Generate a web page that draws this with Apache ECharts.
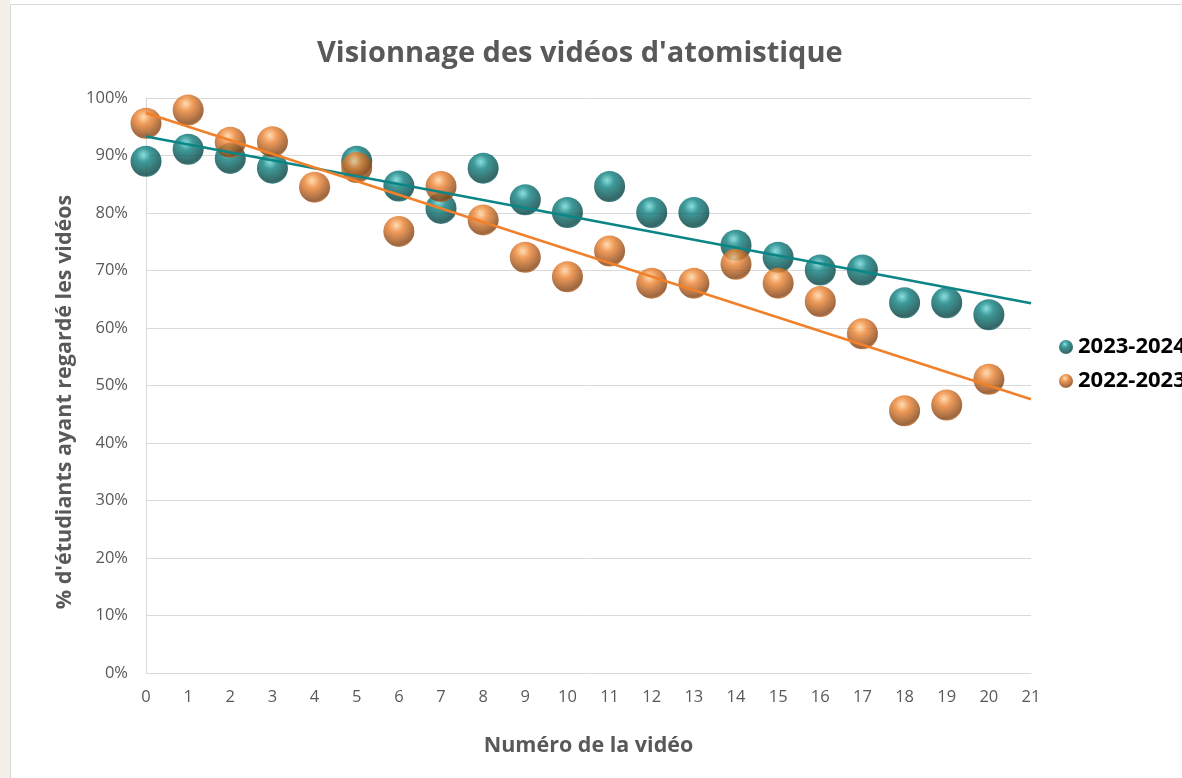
<!DOCTYPE html>
<html>
<head>
<meta charset="utf-8">
<script src="https://cdn.jsdelivr.net/npm/echarts@6/dist/echarts.min.js"></script>
<style>
html,body{margin:0;padding:0;background:#fff;}
#c{width:1182px;height:778px;}
</style>
</head>
<body>
<div id="c"></div>
<script>
// ---- data ----
const title = "Visionnage des vidéos d'atomistique";
const xName = "Numéro de la vidéo";
const yName = "% d'étudiants ayant regardé les vidéos";
const seriesNames = ["2023-2024", "2022-2023"];
const videos2324 = [0, 1, 2, 3, 5, 6, 7, 8, 9, 10, 11, 12, 13, 14, 15, 16, 17, 18, 19, 20];
const values2324 = [0.890, 0.911, 0.895, 0.878, 0.890, 0.847, 0.808, 0.878, 0.823, 0.801, 0.846, 0.801, 0.801, 0.744, 0.723, 0.701, 0.701, 0.644, 0.644, 0.623];
const videos2223 = [0, 1, 2, 3, 4, 5, 6, 7, 8, 9, 10, 11, 12, 13, 14, 15, 16, 17, 18, 19, 20];
const values2223 = [0.956, 0.979, 0.923, 0.924, 0.845, 0.879, 0.768, 0.846, 0.788, 0.723, 0.689, 0.734, 0.678, 0.678, 0.711, 0.678, 0.646, 0.590, 0.456, 0.466, 0.511];
// trend lines (endpoints)
const trendX = [0, 21];
const trend2324 = [0.933, 0.643];
const trend2223 = [0.974, 0.476];

const xMin = 0, xMax = 21, xStep = 1;
const yMin = 0, yMax = 1, yStep = 0.1;

function sphere(light, mid, dark) {
  return {
    type: 'radial', x: 0.42, y: 0.3, r: 0.78,
    colorStops: [
      {offset: 0, color: light},
      {offset: 0.3, color: mid},
      {offset: 0.82, color: dark},
      {offset: 1, color: mid}
    ]
  };
}
const tealSphere = sphere('#6fd6d6', '#0d8080', '#044040');
const orangeSphere = sphere('#ffd4a0', '#ec8230', '#834010');

const chart = echarts.init(document.getElementById('c'), null, {renderer: 'canvas'});
const font = '"Open Sans", "Liberation Sans", sans-serif';

chart.setOption({
  backgroundColor: '#fff',
  animation: false,
  title: {
    text: title, left: 312, top: 34,
    textStyle: {fontFamily: font, fontSize: 29, fontWeight: 'bold', color: '#595959'}
  },
  graphic: [
    {type: 'rect', left: 0, top: 0, shape: {width: 10, height: 778}, style: {fill: '#f3f0ea'}, z: -1},
    {type: 'polyline', shape: {points: [[10.5, 778], [10.5, 4.5], [1182, 4.5]]}, style: {stroke: '#d9d9d9', lineWidth: 1, fill: null}},
    {type: 'text', x: 65, y: 402, rotation: Math.PI / 2,
     style: {text: yName, fontFamily: font, fontSize: 21.5, fontWeight: 'bold', fill: '#595959', align: 'center', verticalAlign: 'middle'}}
  ],
  legend: {
    orient: 'vertical', left: 1054, top: 331, itemWidth: 14, itemHeight: 14, itemGap: 12,
    icon: 'circle',
    data: seriesNames,
    textStyle: {fontFamily: font, fontSize: 22, fontWeight: 'bold', color: '#000'}
  },
  grid: {left: 146, right: 151, top: 98, bottom: 105, containLabel: false},
  xAxis: {
    type: 'value', min: xMin, max: xMax, interval: xStep,
    name: xName, nameLocation: 'middle', nameGap: 62,
    nameTextStyle: {fontFamily: font, fontSize: 21.5, fontWeight: 'bold', color: '#595959'},
    axisLine: {show: true, lineStyle: {color: '#d9d9d9', width: 1}},
    axisTick: {show: false},
    splitLine: {show: false},
    axisLabel: {fontFamily: font, fontSize: 16.5, color: '#595959', margin: 16}
  },
  yAxis: {
    type: 'value', min: yMin, max: yMax, interval: yStep,
    axisLine: {show: true, lineStyle: {color: '#d9d9d9', width: 1}},
    axisTick: {show: false},
    splitLine: {show: true, lineStyle: {color: '#d9d9d9', width: 1}},
    axisLabel: {fontFamily: font, fontSize: 16.5, color: '#595959', margin: 18,
      formatter: v => Math.round(v * 100) + '%'}
  },
  series: [
    {name: seriesNames[0], type: 'scatter', symbolSize: 31, z: 2,
     itemStyle: {color: tealSphere},
     data: videos2324.map((x, i) => [x, values2324[i]])},
    {name: seriesNames[1], type: 'scatter', symbolSize: 31, z: 3,
     itemStyle: {color: orangeSphere},
     data: videos2223.map((x, i) => [x, values2223[i]])},
    {name: 'trend1', type: 'line', showSymbol: false, z: 4, silent: true,
     lineStyle: {color: '#0b8585', width: 2.5},
     data: trendX.map((x, i) => [x, trend2324[i]])},
    {name: 'trend2', type: 'line', showSymbol: false, z: 5, silent: true,
     lineStyle: {color: '#f0802a', width: 2.5},
     data: trendX.map((x, i) => [x, trend2223[i]])}
  ]
});
</script>
</body>
</html>
